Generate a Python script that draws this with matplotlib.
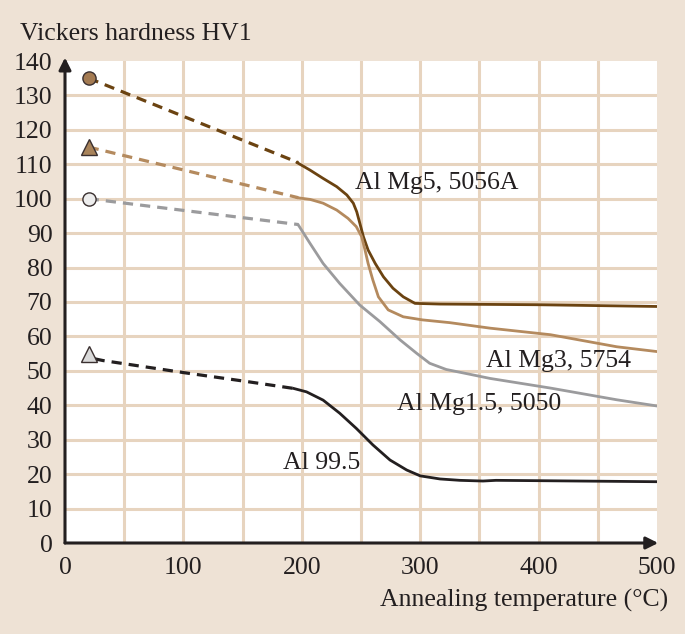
import matplotlib
matplotlib.use("Agg")
import matplotlib.pyplot as plt

# ---------------- data ----------------
mg5_dash_x = [20, 197]
mg5_dash_y = [135, 110.5]
mg5_x = [196, 207, 218, 229.5, 238, 243.5, 246.4, 249, 252, 256, 262, 269, 277,
         285.7, 295.6, 316.7, 400, 500]
mg5_y = [110.5, 108.3, 105.9, 103.5, 101.1, 98.7, 96.2, 92.9, 89, 85.1, 81.2,
         77.3, 74, 71.5, 69.6, 69.4, 69.2, 68.7]

mg3_dash_x = [20, 197]
mg3_dash_y = [115, 100.3]
mg3_x = [196, 207, 218, 229.5, 239, 246, 250.5, 253.4, 256, 260, 264.7, 273,
         285.7, 302, 325, 359, 410, 466, 500]
mg3_y = [100.3, 99.8, 98.7, 96.7, 94.3, 91.9, 89, 85.1, 81.2, 76.4, 71.5, 67.7,
         65.7, 64.8, 64, 62.4, 60.5, 57, 55.6]

mg15_dash_x = [20, 197]
mg15_dash_y = [100, 92.5]
mg15_x = [197, 207, 218, 232, 249, 266, 283, 297, 308, 322, 342, 359, 410, 466, 500]
mg15_y = [92.4, 87, 81.2, 75.4, 69.1, 64.3, 59, 55.1, 52.2, 50.4, 49, 47.8, 45,
          41.6, 39.8]

al_dash_x = [25, 32, 100, 153.5, 193]
al_dash_y = [53.5, 53, 49.5, 46.9, 44.9]
al_x = [193, 204, 218, 232, 246, 260, 274.5, 288.6, 300, 316.7, 333.6, 353,
        364, 400, 500]
al_y = [44.9, 43.9, 41.5, 37.7, 33.3, 28.5, 24.1, 21.2, 19.5, 18.6, 18.2, 18.0,
        18.2, 18.1, 17.8]

marker_x = [20, 20, 20, 20]
marker_y = [135, 115, 100, 55]

labels = ["Al Mg5, 5056A", "Al Mg3, 5754", "Al Mg1.5, 5050", "Al 99.5"]
label_x = [245, 355.5, 280, 184]
label_y = [104.7, 52.9, 40.4, 23.3]

xticks = [0, 100, 200, 300, 400, 500]
yticks = list(range(0, 141, 10))

# ---------------- style ----------------
BG = "#EEE2D5"
GRID = "#E7D4BF"
C_MG5 = "#6B4311"
C_MG3 = "#B48A5E"
C_MG15 = "#9B9B9D"
C_AL = "#231F20"
AX = "#231F20"

plt.rcParams['font.family'] = ['Liberation Serif', 'DejaVu Serif']

fig = plt.figure(figsize=(6.85, 6.34), dpi=100, facecolor=BG)
ax = fig.add_axes([65/685, 1-543/634, (657-65)/685, (543-61)/634])
ax.set_facecolor("white")
ax.set_xlim(0, 500)
ax.set_ylim(0, 140)

for gx in range(50, 500, 50):
    ax.axvline(gx, color=GRID, lw=2.2, zorder=1)
for gy in range(10, 140, 10):
    ax.axhline(gy, color=GRID, lw=2.2, zorder=1)

for s in ax.spines.values():
    s.set_visible(False)

ax.set_xticks(xticks)
ax.set_yticks(yticks)
ax.tick_params(axis='x', length=0, labelsize=18.5, colors=AX, pad=10)
ax.tick_params(axis='y', length=0, labelsize=18.5, colors=AX, pad=9)

dash = (0, (3.2, 2.2))
lw = 2.0
ax.plot(mg5_dash_x, mg5_dash_y, color=C_MG5, lw=lw + 0.3, ls=dash, zorder=3)
ax.plot(mg5_x, mg5_y, color=C_MG5, lw=lw, zorder=3, solid_joinstyle='round')
ax.plot(mg3_dash_x, mg3_dash_y, color=C_MG3, lw=lw + 0.3, ls=dash, zorder=3)
ax.plot(mg3_x, mg3_y, color=C_MG3, lw=lw, zorder=3, solid_joinstyle='round')
ax.plot(mg15_dash_x, mg15_dash_y, color=C_MG15, lw=lw + 0.3, ls=dash, zorder=3)
ax.plot(mg15_x, mg15_y, color=C_MG15, lw=lw, zorder=3, solid_joinstyle='round')
ax.plot(al_dash_x, al_dash_y, color=C_AL, lw=lw + 0.3, ls=dash, zorder=3)
ax.plot(al_x, al_y, color=C_AL, lw=lw, zorder=3, solid_joinstyle='round')

mk = ['o', '^', 'o', '^']
mfc = ["#A47B52", "#A8835A", "#EDEDED", "#D9D9D9"]
msz = [9.5, 11, 9.5, 11]
for i in range(4):
    ax.plot(marker_x[i], marker_y[i], marker=mk[i], ms=msz[i], mfc=mfc[i],
            mec="#3A3030", mew=1.0, zorder=5, clip_on=False)

for i in range(4):
    ax.text(label_x[i], label_y[i], labels[i], fontsize=18.5, color=AX,
            ha='left', va='center', zorder=6)

# axes with arrows
ax.annotate('', xy=(0, 141), xytext=(0, 0), xycoords='data',
            arrowprops=dict(arrowstyle='-|>', color=AX, lw=2.2,
                            mutation_scale=18, shrinkA=0, shrinkB=0),
            annotation_clip=False, zorder=7)
ax.annotate('', xy=(501, 0), xytext=(0, 0), xycoords='data',
            arrowprops=dict(arrowstyle='-|>', color=AX, lw=2.2,
                            mutation_scale=18, shrinkA=0, shrinkB=0),
            annotation_clip=False, zorder=7)

fig.text(20/685, 1-34/634, "Vickers hardness HV1", fontsize=18.5, color=AX,
         ha='left', va='center')
fig.text(668/685, 1-600/634, "Annealing temperature (°C)", fontsize=18.5,
         color=AX, ha='right', va='center')

fig.savefig("out.png", dpi=100, facecolor=BG)
